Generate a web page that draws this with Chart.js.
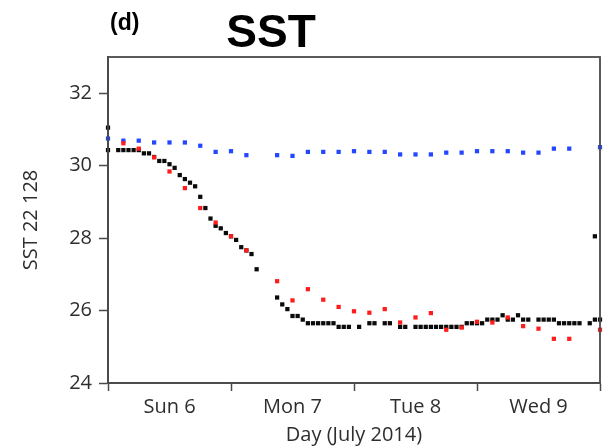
<!DOCTYPE html>
<html>
<head>
<meta charset="utf-8">
<script src="https://cdn.jsdelivr.net/npm/chart.js@4.4.1/dist/chart.umd.min.js"></script>
<style>
  html, body { margin: 0; padding: 0; background: #fff; }
  canvas { display: block; }
</style>
</head>
<body>
<canvas id="sst" width="606" height="447"></canvas>
<script>
// Day labels, centred between day ticks
const dayLabels = ['Sun 6', 'Mon 7', 'Tue 8', 'Wed 9'];
const yTicks = [24, 26, 28, 30, 32];

// 3-hourly series (index * 3 h from Sun 6 00:00), null = no value
const redSst = [null, 30.62, 30.47, 30.23, 29.84, 29.38, 28.83, 28.43, 28.05, 27.66,
  null, 26.81, 26.28, 26.59, 26.30, 26.10, 25.98, 25.94, 26.04, 25.67,
  25.81, 25.93, 25.47, 25.53, 25.69, 25.67, 25.81, 25.57, 25.50, 25.22,
  25.22, null, 25.47];
const blueSst = [30.75, 30.69, 30.69, 30.64, 30.64, 30.64, 30.55, 30.38, 30.40, 30.29,
  null, 30.29, 30.27, 30.38, 30.38, 30.38, 30.40, 30.38, 30.38, 30.31,
  30.31, 30.31, 30.36, 30.36, 30.40, 30.40, 30.40, 30.36, 30.36, 30.47,
  30.47, null, 30.51];

// hourly series (hours since Sun 6 00:00)
const blackHours = [0, 0, 2, 3, 4, 5, 6, 7, 8, 9,
  10, 11, 12, 13, 14, 15, 16, 17, 18, 19,
  20, 21, 22, 23, 24, 25, 26, 27, 28, 29,
  33, 34, 35, 36, 37, 38, 39, 40, 41, 42,
  43, 44, 45, 46, 47, 49, 51, 52, 54, 55,
  57, 58, 60, 61, 62, 63, 64, 65, 66, 67,
  68, 69, 70, 71, 72, 73, 74, 75, 76, 77,
  78, 79, 80, 81, 82, 84, 85, 86, 87, 88,
  89, 90, 91, 92, 94, 95, 95, 96];
const blackSst = [31.05, 30.43, 30.43, 30.43, 30.43, 30.43, 30.43, 30.34, 30.34, 30.24,
  30.13, 30.13, 30.04, 29.94, 29.74, 29.63, 29.53, 29.43, 29.14, 28.83,
  28.54, 28.34, 28.27, 28.14, 28.05, 27.95, 27.75, 27.66, 27.56, 27.14,
  26.36, 26.17, 26.04, 25.85, 25.85, 25.75, 25.65, 25.65, 25.65, 25.65,
  25.65, 25.65, 25.55, 25.55, 25.55, 25.55, 25.65, 25.65, 25.65, 25.65,
  25.55, 25.55, 25.55, 25.55, 25.55, 25.55, 25.55, 25.55, 25.55, 25.55,
  25.55, 25.55, 25.65, 25.65, 25.65, 25.65, 25.75, 25.75, 25.75, 25.87,
  25.75, 25.75, 25.87, 25.75, 25.75, 25.75, 25.75, 25.75, 25.75, 25.65,
  25.65, 25.65, 25.65, 25.65, 25.65, 25.75, 28.05, 25.75];

const threeHourly = arr => arr
  .map((v, i) => ({ x: i * 3 / 24, y: v }))
  .filter(p => p.y !== null);
const hourly = (hours, vals) => hours.map((h, i) => ({ x: h / 24, y: vals[i] }));

const FRAME = '#4a4a4a';
const TEXT = '#2e2e2e';
const FONT = "'Open Sans', 'Noto Sans', sans-serif";

// box round the plot, plus "(d)" and "SST" headings
const framePlugin = {
  id: 'frame',
  afterDraw(chart) {
    const { ctx, chartArea: a } = chart;
    ctx.save();
    ctx.strokeStyle = FRAME;
    ctx.lineWidth = 1.8;
    ctx.strokeRect(a.left, a.top, a.right - a.left, a.bottom - a.top);
    ctx.fillStyle = '#000';
    ctx.textBaseline = 'alphabetic';
    ctx.font = "bold 23px 'Liberation Sans', Arial, sans-serif";
    ctx.textAlign = 'left';
    ctx.fillText('(d)', 110, 30);
    ctx.font = "bold 46px 'Liberation Sans', Arial, sans-serif";
    ctx.textAlign = 'center';
    ctx.fillText('SST', 271, 47);
    ctx.restore();
  }
};

const pointSet = (label, data, color) => ({
  label,
  data,
  backgroundColor: color,
  borderWidth: 0,
  pointStyle: 'rect',
  pointRadius: 3,
  pointHoverRadius: 3,
  showLine: false,
  clip: false,
});

new Chart(document.getElementById('sst'), {
  type: 'scatter',
  data: {
    datasets: [
      pointSet('red', threeHourly(redSst), '#ff1c1c'),
      pointSet('black', hourly(blackHours, blackSst), '#0a0a0a'),
      pointSet('blue', threeHourly(blueSst), '#2346ff'),
    ]
  },
  options: {
    responsive: false,
    animation: false,
    layout: { padding: { top: 57, right: 6, bottom: 0, left: 0 } },
    plugins: {
      legend: { display: false },
      tooltip: { enabled: false },
    },
    scales: {
      x: {
        type: 'linear',
        min: 0,
        max: 4,
        afterFit: s => { s.height = 64; },
        border: { display: true, color: FRAME, width: 1.8 },
        grid: {
          drawOnChartArea: false,
          tickLength: 8,
          tickWidth: 1.5,
          tickColor: c => (c.tick && c.tick.value % 1 === 0) ? FRAME : 'rgba(0,0,0,0)',
        },
        ticks: {
          stepSize: 0.5,
          autoSkip: false,
          maxRotation: 0,
          padding: 4,
          color: TEXT,
          font: { family: FONT, size: 20 },
          callback: v => (v % 1 !== 0 ? dayLabels[Math.floor(v)] : ''),
        },
        title: {
          display: true,
          text: 'Day (July 2014)',
          color: TEXT,
          font: { family: FONT, size: 20 },
          padding: { top: 0, bottom: 0 },
        },
      },
      y: {
        min: 24,
        max: 33,
        afterFit: s => { s.width = 108; },
        afterBuildTicks: s => { s.ticks = yTicks.map(v => ({ value: v })); },
        border: { display: true, color: FRAME, width: 1.8 },
        grid: {
          drawOnChartArea: false,
          tickLength: 9,
          tickWidth: 1.5,
          tickColor: FRAME,
        },
        ticks: {
          padding: 7,
          color: TEXT,
          font: { family: FONT, size: 20 },
        },
        title: {
          display: true,
          text: 'SST 22 128',
          color: TEXT,
          font: { family: FONT, size: 20 },
          padding: { top: 19, bottom: 0 },
        },
      }
    }
  },
  plugins: [framePlugin]
});
</script>
</body>
</html>
